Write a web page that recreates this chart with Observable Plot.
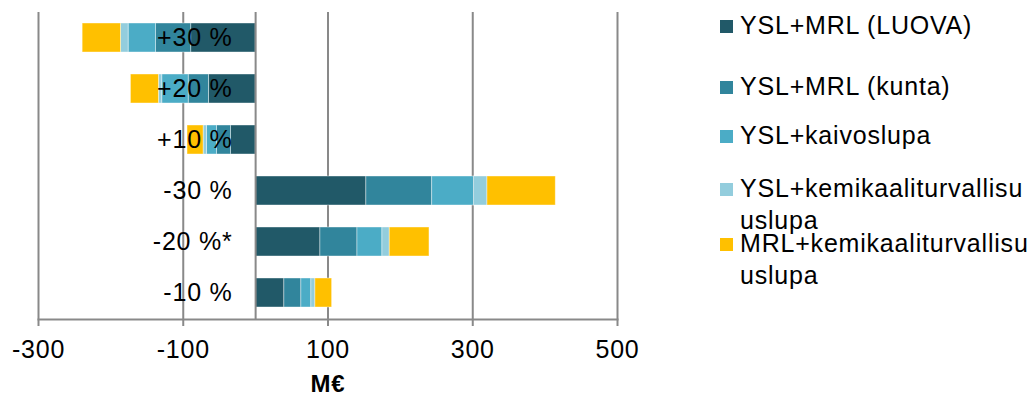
<!DOCTYPE html>
<html><head><meta charset="utf-8">
<script src="https://cdn.jsdelivr.net/npm/d3@7"></script>
<script src="https://cdn.jsdelivr.net/npm/@observablehq/plot@0.6"></script>
<style>
body{margin:0;background:#fff;font-family:"Liberation Sans",Arial,sans-serif;}
#wrap{position:relative;width:1030px;height:400px;overflow:hidden;}
#chart{position:absolute;left:0;top:0;}
.leg{position:absolute;left:720px;width:310px;font-size:25px;line-height:32px;letter-spacing:0.8px;color:#000;}
.sw{position:absolute;left:0;top:11px;width:13px;height:13px;}
.lt{position:absolute;left:20px;top:0;width:290px;word-break:break-all;}
</style>
</head><body>
<div id="wrap"><div id="chart"></div><div id="legend"></div></div>
<script>
const categories = ["+30 %", "+20 %", "+10 %", "-30 %", "-20 %*", "-10 %"];
const series = ["YSL+MRL (LUOVA)", "YSL+MRL (kunta)", "YSL+kaivoslupa", "YSL+kemikaaliturvallisuuslupa", "MRL+kemikaaliturvallisuuslupa"];
const luova   = [-89, -64.5, -34, 153, 89.5, 39.7];
const kunta   = [-48.5, -28, -19.4, 91, 51.2, 23.5];
const kaivos  = [-38, -36.5, -13.8, 57.6, 34.5, 13.8];
const yslKemi = [-10.5, -4.6, -4.7, 18.7, 10.1, 5.6];
const mrlKemi = [-53, -38.7, -22.2, 94.4, 54.9, 23.1];
const colors = ["#215968", "#31859C", "#4BACC6", "#93CDDD", "#FFC000"];
const xTicks = [-300, -100, 100, 300, 500];
const xLabel = "M€";

const seriesValues = [luova, kunta, kaivos, yslKemi, mrlKemi];
const rows = [];
series.forEach((s, si) => categories.forEach((c, ci) => rows.push({series: s, category: c, value: seriesValues[si][ci]})));

const grey = "#898989";
const plot = Plot.plot({
  width: 680, height: 400,
  marginLeft: 38, marginRight: 63, marginTop: 12, marginBottom: 81,
  style: {fontFamily: '"Liberation Sans", Arial, sans-serif', fontSize: "25px", color: "#000", background: "#fff", letterSpacing: "0.8px", overflow: "visible"},
  x: {domain: [-300, 500]},
  y: {domain: categories, paddingInner: 0.427, paddingOuter: 0.213, axis: null},
  color: {domain: series, range: colors},
  marks: [
    Plot.gridX(xTicks, {stroke: grey, strokeOpacity: 1, strokeWidth: 2}),
    Plot.barX(rows, {x: "value", y: "category", fill: "series", order: series, stroke: "#fff", strokeWidth: 0.8, strokeOpacity: 0.5}),
    Plot.ruleX([0], {stroke: grey, strokeWidth: 2}),
    Plot.frame({anchor: "bottom", stroke: grey, strokeWidth: 2}),
    Plot.axisX(xTicks, {tickSize: 7, tickPadding: 14, stroke: grey, strokeWidth: 2, tickFormat: d => String(d), label: null, fontSize: 25, fill: "#000"}),
    Plot.text(categories, {x: () => 0, y: d => d, dx: -23, textAnchor: "end", fontSize: 25, fill: "#000"}),
    Plot.text([xLabel], {frameAnchor: "bottom", lineAnchor: "middle", dy: 65, fontWeight: "bold", fontSize: 24, fill: "#000"})
  ]
});
document.getElementById("chart").appendChild(plot);

const legTops = [9, 70, 119, 172, 227];
const leg = document.getElementById("legend");
series.forEach((s, i) => {
  const d = document.createElement("div");
  d.className = "leg";
  d.style.top = legTops[i] + "px";
  const sw = document.createElement("div");
  sw.className = "sw"; sw.style.background = colors[i];
  const t = document.createElement("div");
  t.className = "lt"; t.textContent = s;
  d.appendChild(sw); d.appendChild(t);
  leg.appendChild(d);
});
</script>
</body></html>
